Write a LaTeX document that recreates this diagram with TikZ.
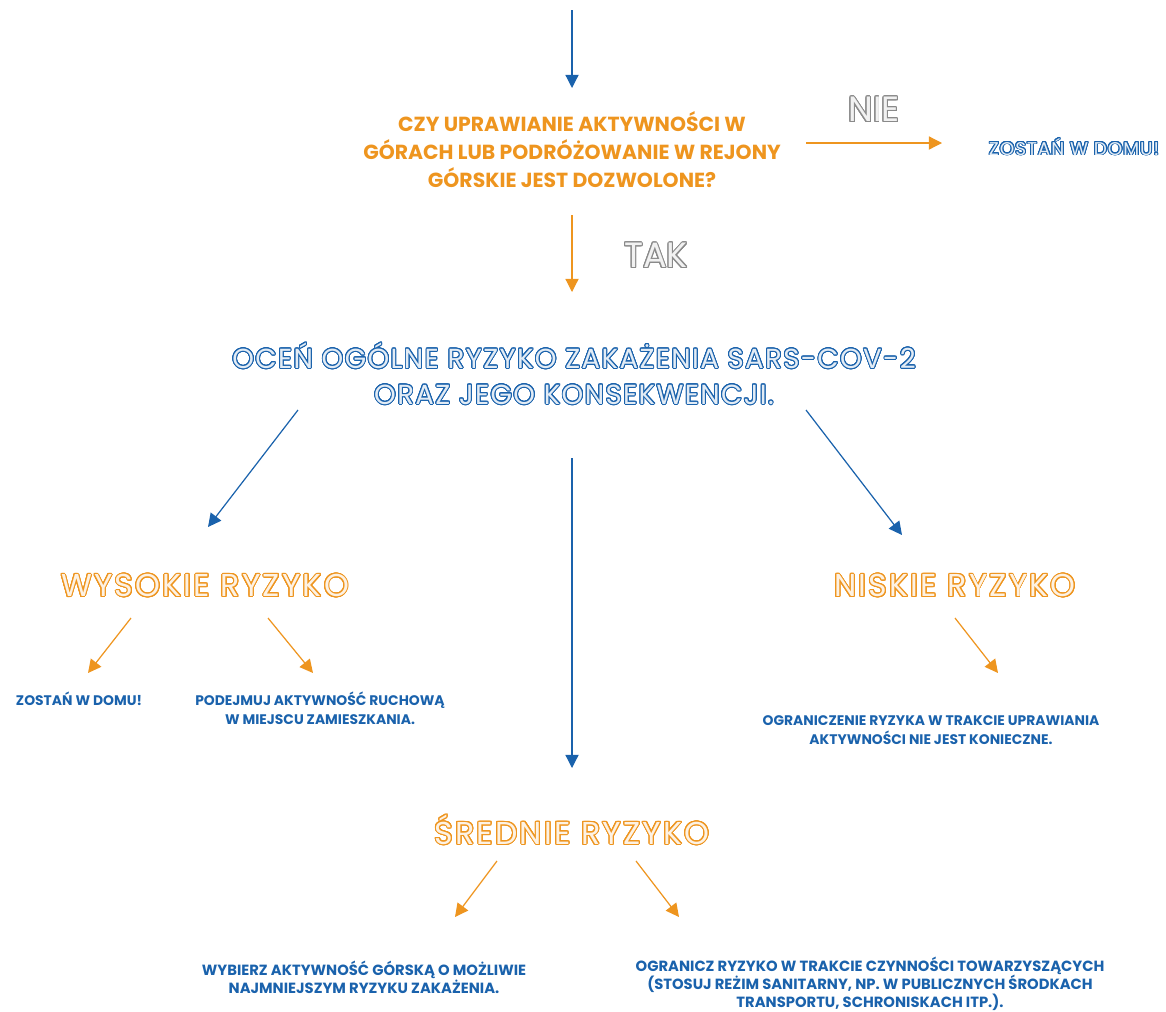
\documentclass[tikz,border=0pt]{standalone}
\usepackage{fontspec}
\setmainfont{Poppins}
\newfontfamily\headfont{Poppins}[LetterSpace=5]
\newfontfamily\riskfont{Poppins}[LetterSpace=7]
\usepackage[copies]{contour}
\usetikzlibrary{arrows.meta,positioning}

\definecolor{orng}{HTML}{EE951F}
\definecolor{blu}{HTML}{1A62AC}
\definecolor{gry}{HTML}{8A8A8A}

\contourlength{0.55pt}
\contournumber{24}
% outlined lettering: coloured rim, pale inside
\newcommand{\rim}[2]{\contour{#1}{\color{#1!12}#2}}

\begin{document}
\begin{tikzpicture}[
  x=0.02cm, y=-0.02cm,
  every node/.style={align=center, inner sep=0pt},
  question/.style={text=orng, font=\bfseries\fontsize{11.6}{15.9}\selectfont},
  assess/.style  ={font=\headfont\fontsize{15.7}{20.4}\selectfont},
  risk/.style    ={font=\riskfont\fontsize{18}{20}\selectfont},
  answer/.style  ={font=\fontsize{20}{22}\selectfont},
  advice/.style  ={text=blu, font=\bfseries\fontsize{7.9}{10.8}\selectfont},
  advice2/.style ={advice, font=\bfseries\fontsize{8.4}{10.2}\selectfont},
  arrO/.style    ={draw=orng, line width=0.7pt, -{Triangle[length=7.5pt,width=7.5pt]}},
  arrB/.style    ={draw=blu, line width=0.7pt, -{Triangle[length=7.5pt,width=7.5pt]}}
]
  \useasboundingbox (0,0) rectangle (1166,1011);

  % main chain
  \node[question] (ask) at (572,150) {CZY UPRAWIANIE AKTYWNOŚCI W\\GÓRACH LUB PODRÓŻOWANIE W REJONY\\GÓRSKIE JEST DOZWOLONE?};
  \node[answer]   (nie)   at (874,110) {\rim{gry}{NIE}};
  \node[font=\headfont\fontsize{10.5}{12}\selectfont] (home1) at (1074,147) {\rim{blu}{ZOSTAŃ W DOMU!}};
  \node[answer]   (tak)   at (656,256) {\rim{gry}{TAK}};
  \node[assess]   (eval)  at (574,374) {\rim{blu}{OCEŃ OGÓLNE RYZYKO ZAKAŻENIA SARS-COV-2}\\\rim{blu}{ORAZ JEGO KONSEKWENCJI.}};

  % three risk levels
  \node[risk] (high) at (205,586) {\rim{orng}{WYSOKIE RYZYKO}};
  \node[risk] (low)  at (955,586) {\rim{orng}{NISKIE RYZYKO}};
  \node[risk] (mid)  at (572,830) {\rim{orng}{ŚREDNIE RYZYKO}};

  \node[advice]  (home2) at (79,699)  {ZOSTAŃ W DOMU!};
  \node[advice]  (move)  at (320,708) {PODEJMUJ AKTYWNOŚĆ RUCHOWĄ\\W MIEJSCU ZAMIESZKANIA.};
  \node[advice]  (free)  at (931,730) {OGRANICZENIE RYZYKA W TRAKCIE UPRAWIANIA\\AKTYWNOŚCI NIE JEST KONIECZNE.};
  \node[advice2] (pick)  at (364,977) {WYBIERZ AKTYWNOŚĆ GÓRSKĄ O MOŻLIWIE\\NAJMNIEJSZYM RYZYKU ZAKAŻENIA.};
  \node[advice2] (limit) at (870,984) {OGRANICZ RYZYKO W TRAKCIE CZYNNOŚCI TOWARZYSZĄCYCH\\(STOSUJ REŻIM SANITARNY, NP. W PUBLICZNYCH ŚRODKACH\\TRANSPORTU, SCHRONISKACH ITP.).};

  % arrow ends
  \coordinate (entry) at (572,10);
  \coordinate (askN)  at (572,88);
  \coordinate (nieA)  at (806,143);
  \coordinate (nieB)  at (942,143);
  \coordinate (takA)  at (572,215);
  \coordinate (takB)  at (572,292);
  \coordinate (evL)   at (298,410);
  \coordinate (hiN)   at (208,527);
  \coordinate (evM)   at (572,458);
  \coordinate (miN)   at (572,768);
  \coordinate (evR)   at (806,410);
  \coordinate (loN)   at (902,535);
  \coordinate (hiL)   at (131,618);
  \coordinate (h2N)   at (88,673);
  \coordinate (hiR)   at (268,618);
  \coordinate (mvN)   at (313,673);
  \coordinate (loS)   at (955,618);
  \coordinate (frN)   at (998,673);
  \coordinate (miL)   at (497,861);
  \coordinate (pkN)   at (455,917);
  \coordinate (miR)   at (636,861);
  \coordinate (lmN)   at (679,917);

  \draw[arrB] (entry) -- (askN);
  \draw[arrO] (nieA)  -- (nieB);
  \draw[arrO] (takA)  -- (takB);
  \draw[arrB] (evL)   -- (hiN);
  \draw[arrB] (evM)   -- (miN);
  \draw[arrB] (evR)   -- (loN);
  \draw[arrO] (hiL)   -- (h2N);
  \draw[arrO] (hiR)   -- (mvN);
  \draw[arrO] (loS)   -- (frN);
  \draw[arrO] (miL)   -- (pkN);
  \draw[arrO] (miR)   -- (lmN);
\end{tikzpicture}
\end{document}
